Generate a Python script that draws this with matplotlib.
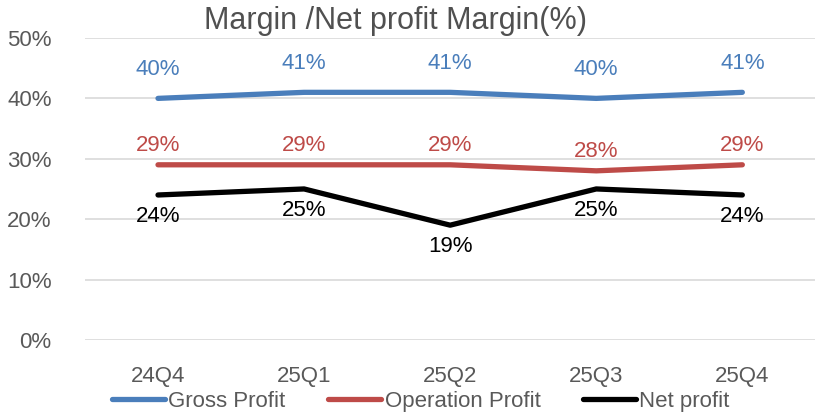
import matplotlib.pyplot as plt
from matplotlib.ticker import FuncFormatter

plt.rcParams['font.family'] = ['Liberation Sans', 'DejaVu Sans']

quarters = ['24Q4', '25Q1', '25Q2', '25Q3', '25Q4']
gross = [40, 41, 41, 40, 41]
operation = [29, 29, 29, 28, 29]
net = [24, 25, 19, 25, 24]

blue = '#4A7EBB'
red = '#BE4B48'
black = '#000000'

fig = plt.figure(figsize=(8.17, 4.13), dpi=100)
ax = fig.add_axes([0.104, 0.177, 0.894, 0.731])

x = range(len(quarters))
ax.plot(x, gross, color=blue, lw=3.8, solid_capstyle='round', label='Gross Profit')
ax.plot(x, operation, color=red, lw=3.8, solid_capstyle='round', label='Operation Profit')
ax.plot(x, net, color=black, lw=3.8, solid_capstyle='round', label='Net profit')

for i in x:
    ax.annotate(f'{gross[i]}%', (i, gross[i]), xytext=(0, 13), textcoords='offset points',
                ha='center', va='bottom', color=blue, fontsize=16)
    ax.annotate(f'{operation[i]}%', (i, operation[i]), xytext=(0, 6), textcoords='offset points',
                ha='center', va='bottom', color=red, fontsize=16)
    ax.annotate(f'{net[i]}%', (i, net[i]), xytext=(0, -8), textcoords='offset points',
                ha='center', va='top', color=black, fontsize=16)

ax.set_xlim(-0.5, 4.5)
ax.set_ylim(0, 50)
ax.set_yticks(range(0, 51, 10))
ax.yaxis.set_major_formatter(FuncFormatter(lambda v, p: f'{v:.0f}%'))
ax.set_xticks(list(x))
ax.set_xticklabels(quarters)
ax.tick_params(axis='both', length=0, labelsize=16, colors='#595959')
ax.tick_params(axis='x', pad=19)
ax.tick_params(axis='y', pad=24)
ax.grid(axis='y', color='#D9D9D9', lw=1.2)
ax.set_axisbelow(True)
for s in ax.spines.values():
    s.set_visible(False)

fig.text(0.484, 0.948, 'Margin /Net profit Margin(%)', ha='center', va='center',
         fontsize=22, color='#505050')

leg = fig.legend(loc='lower center', bbox_to_anchor=(0.515, -0.045), ncol=3, frameon=False,
                 fontsize=16, handlelength=2.4, handletextpad=0.15, columnspacing=1.9,
                 labelcolor='#595959')

fig.savefig('out.png', dpi=100)
